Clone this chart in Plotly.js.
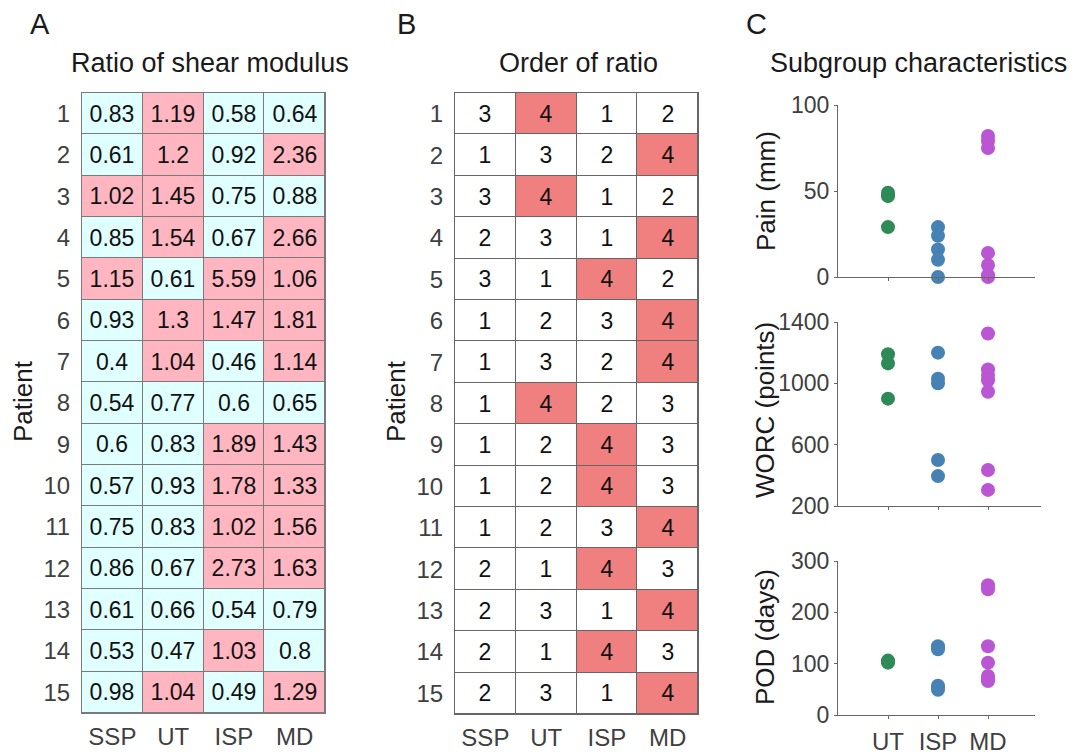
<!DOCTYPE html>
<html>
<head>
<meta charset="utf-8">
<script src="https://cdn.plot.ly/plotly-3.0.1.min.js"></script>
<style>html,body{margin:0;padding:0;background:#fff;}#chart{width:1076px;height:755px;}</style>
</head>
<body>
<div id="chart"></div>
<script>
// ---------- data ----------
const categories = ['SSP', 'UT', 'ISP', 'MD'];
const patients = [1, 2, 3, 4, 5, 6, 7, 8, 9, 10, 11, 12, 13, 14, 15];

const ratioSSP = [0.83, 0.61, 1.02, 0.85, 1.15, 0.93, 0.4, 0.54, 0.6, 0.57, 0.75, 0.86, 0.61, 0.53, 0.98];
const ratioUT  = [1.19, 1.2, 1.45, 1.54, 0.61, 1.3, 1.04, 0.77, 0.83, 0.93, 0.83, 0.67, 0.66, 0.47, 1.04];
const ratioISP = [0.58, 0.92, 0.75, 0.67, 5.59, 1.47, 0.46, 0.6, 1.89, 1.78, 1.02, 2.73, 0.54, 1.03, 0.49];
const ratioMD  = [0.64, 2.36, 0.88, 2.66, 1.06, 1.81, 1.14, 0.65, 1.43, 1.33, 1.56, 1.63, 0.79, 0.8, 1.29];

const orderSSP = [3, 1, 3, 2, 3, 1, 1, 1, 1, 1, 1, 2, 2, 2, 2];
const orderUT  = [4, 3, 4, 3, 1, 2, 3, 4, 2, 2, 2, 1, 3, 1, 3];
const orderISP = [1, 2, 1, 1, 4, 3, 2, 2, 4, 4, 3, 4, 1, 4, 1];
const orderMD  = [2, 4, 2, 4, 2, 4, 4, 3, 3, 3, 4, 3, 4, 3, 4];

const groups = ['UT', 'ISP', 'MD'];
const painUT  = [49, 47, 29];
const painISP = [29, 24, 16, 10, 0];
const painMD  = [82, 79, 75, 14, 7, 1, 0];
const worcUT  = [1190, 1130, 900];
const worcISP = [1200, 1030, 1000, 500, 395];
const worcMD  = [1325, 1090, 1055, 1020, 945, 435, 305];
const podUT   = [106, 104, 102];
const podISP  = [134, 128, 57, 53, 49];
const podMD   = [253, 245, 134, 102, 76, 70, 66];

const groupColors = ['#2e8b57', '#4682b4', '#ba55d3'];

// ---------- helpers ----------
const FONT = 'Liberation Sans, Arial, sans-serif';
const W = 1076, H = 755;
const px = v => v / W;
const py = v => 1 - v / H;

function rowsOf(cols) {
  return patients.map((p, i) => cols.map(c => c[i]));
}
const ratioRows = rowsOf([ratioSSP, ratioUT, ratioISP, ratioMD]);
const orderRows = rowsOf([orderSSP, orderUT, orderISP, orderMD]);

const traces = [];
traces.push({
  type: 'heatmap', x: categories, y: patients,
  z: ratioRows.map(r => r.map(v => (v > 1 ? 1 : 0))),
  text: ratioRows.map(r => r.map(v => String(v))),
  texttemplate: '%{text}',
  textfont: {family: FONT, size: 23, color: '#111'},
  colorscale: [[0, '#e0ffff'], [1, '#ffb6c1']], zmin: 0, zmax: 1,
  showscale: false, xgap: 1, ygap: 1, hoverinfo: 'skip',
  xaxis: 'x', yaxis: 'y'
});
traces.push({
  type: 'heatmap', x: categories, y: patients,
  z: orderRows.map(r => r.map(v => (v === 4 ? 1 : 0))),
  text: orderRows.map(r => r.map(v => String(v))),
  texttemplate: '%{text}',
  textfont: {family: FONT, size: 23, color: '#111'},
  colorscale: [[0, '#ffffff'], [1, '#f08080']], zmin: 0, zmax: 1,
  showscale: false, xgap: 1, ygap: 1, hoverinfo: 'skip',
  xaxis: 'x2', yaxis: 'y2'
});

function addGroupTraces(data, xa, ya) {
  data.forEach((vals, g) => {
    traces.push({
      type: 'scatter', mode: 'markers',
      x: vals.map(() => groups[g]), y: vals,
      marker: {color: groupColors[g], size: 14},
      cliponaxis: false, showlegend: false, hoverinfo: 'y',
      xaxis: xa, yaxis: ya
    });
  });
}
addGroupTraces([painUT, painISP, painMD], 'x3', 'y3');
addGroupTraces([worcUT, worcISP, worcMD], 'x4', 'y4');
addGroupTraces([podUT, podISP, podMD], 'x5', 'y5');

const tickFont = {family: FONT, size: 24, color: '#404040'};
const heatX = (dom, anchor, lc) => ({
  domain: dom, anchor: anchor, type: 'category', categoryarray: categories,
  showgrid: false, zeroline: false, ticks: '', tickfont: tickFont,
  ticklabelstandoff: 2, showline: true, mirror: true, linecolor: lc, linewidth: 1,
  fixedrange: true
});
const heatY = (dom, anchor, lc) => ({
  domain: dom, anchor: anchor, range: [15.5, 0.5], tickvals: patients,
  showgrid: false, zeroline: false, ticks: '', tickfont: tickFont,
  ticklabelstandoff: 6, showline: true, mirror: true, linecolor: lc, linewidth: 1,
  fixedrange: true
});
const scX = (dom, anchor, range, showLabels) => ({
  domain: dom, anchor: anchor, type: 'category', categoryarray: groups,
  range: range, showgrid: false, zeroline: false,
  ticks: 'outside', ticklen: 3, tickcolor: '#666',
  showticklabels: showLabels, tickfont: tickFont, ticklabelstandoff: 2,
  showline: true, linecolor: '#666', linewidth: 1, fixedrange: true
});
const scY = (dom, anchor, range, tv) => ({
  domain: dom, anchor: anchor, range: range, tickvals: tv,
  showgrid: false, zeroline: false,
  ticks: 'outside', ticklen: 3, tickcolor: '#666',
  tickfont: {family: FONT, size: 23, color: '#404040'},
  showline: true, linecolor: '#666', linewidth: 1, fixedrange: true
});

function ann(text, x, y, size, angle) {
  return {text: text, x: px(x), y: py(y), xref: 'paper', yref: 'paper',
    xanchor: 'center', yanchor: 'middle', showarrow: false,
    textangle: angle || 0, font: {family: FONT, size: size, color: '#1a1a1a'}};
}

// grey backing behind the heatmap cells so the cell gaps read as grid lines
function gridBacking(xr, yr, color) {
  return {type: 'rect', xref: xr + ' domain', yref: yr + ' domain',
    x0: 0, x1: 1, y0: 0, y1: 1, fillcolor: color, line: {width: 0}, layer: 'below'};
}

const layout = {
  width: W, height: H, margin: {l: 0, r: 0, t: 0, b: 0},
  paper_bgcolor: '#ffffff', plot_bgcolor: '#ffffff',
  showlegend: false,
  xaxis:  heatX([px(82), px(325)], 'y', '#7a7a7a'),
  yaxis:  heatY([py(713), py(93)], 'x', '#7a7a7a'),
  xaxis2: heatX([px(455), px(698)], 'y2', '#666'),
  yaxis2: heatY([py(714), py(93)], 'x2', '#666'),
  xaxis3: scX([px(838), px(1035)], 'y3', [-1, 2.94], false),
  yaxis3: scY([py(277), py(105)], 'x3', [0, 100], [0, 50, 100]),
  xaxis4: scX([px(838), px(1041)], 'y4', [-1, 3.06], false),
  yaxis4: scY([py(506), py(322)], 'x4', [200, 1400], [200, 600, 1000, 1400]),
  xaxis5: scX([px(838), px(1035)], 'y5', [-1, 2.94], true),
  yaxis5: scY([py(715), py(561)], 'x5', [0, 300], [0, 100, 200, 300]),
  shapes: [gridBacking('x', 'y', '#7a7a7a'), gridBacking('x2', 'y2', '#666')],
  annotations: [
    ann('A', 40, 24, 29),
    ann('Ratio of shear modulus', 210, 63, 27),
    ann('B', 406, 24, 29),
    ann('Order of ratio', 578, 63, 27),
    ann('C', 756, 24, 29),
    ann('Subgroup characteristics', 918, 63, 27),
    ann('Patient', 23, 401, 26, -90),
    ann('Patient', 396, 401, 26, -90),
    ann('Pain (mm)', 766, 191, 26, -90),
    ann('WORC (points)', 765, 410, 26, -90),
    ann('POD (days)', 765, 637, 26, -90)
  ]
};

Plotly.newPlot('chart', traces, layout, {staticPlot: true, displayModeBar: false});
</script>
</body>
</html>
